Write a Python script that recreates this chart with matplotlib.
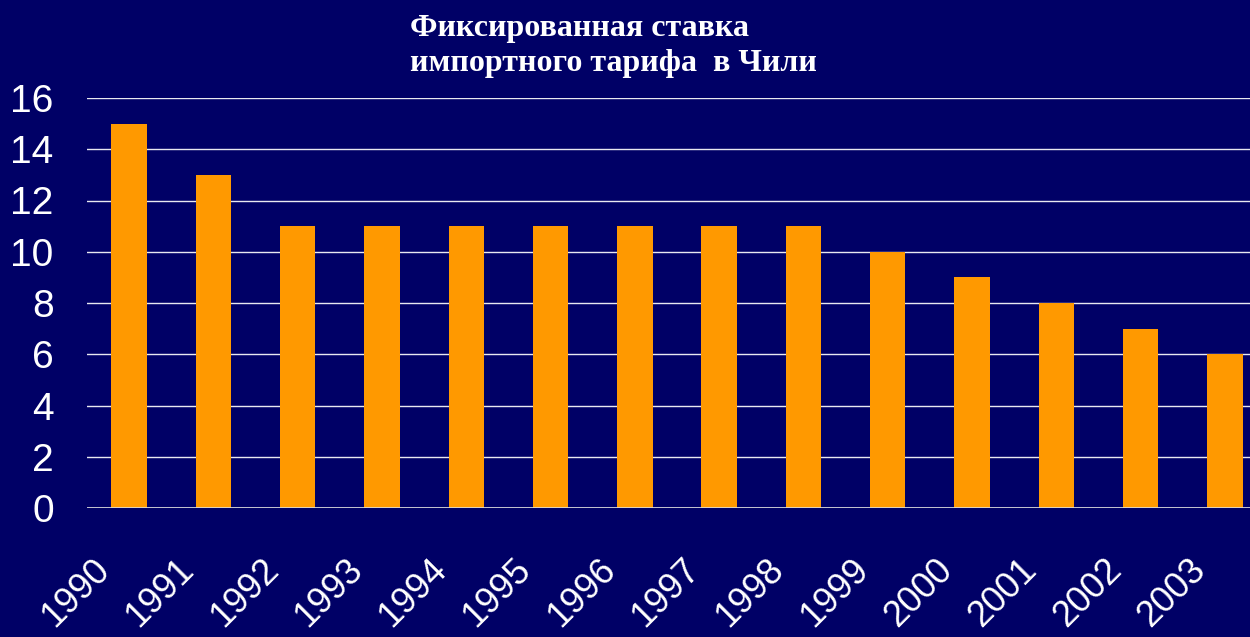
import numpy as np
import matplotlib
matplotlib.use('Agg')
from matplotlib import pyplot as plt
from matplotlib import transforms

years = ['1990', '1991', '1992', '1993', '1994', '1995', '1996',
         '1997', '1998', '1999', '2000', '2001', '2002', '2003']
rates = [15, 13, 11, 11, 11, 11, 11, 11, 11, 10, 9, 8, 7, 6]
title = 'Фиксированная ставка\nимпортного тарифа  в Чили'

bg = '#000066'
bar_color = '#FF9900'

fig = plt.figure(figsize=(12.5, 6.37), dpi=100, facecolor=bg)
# plot area runs a little past the right edge, like the original slide
ax = fig.add_axes([87/1250, 1-508/637, (1267-87)/1250, (508-98)/637])
ax.set_facecolor(bg)

x = np.arange(len(years))
ax.bar(x, rates, width=0.42, color=bar_color, zorder=3)

ax.set_xlim(-0.5, len(years)-0.5)
ax.set_ylim(0, 16)
ax.set_yticks(range(0, 17, 2))
ax.yaxis.grid(True, color='#e8e8f0', linewidth=1, zorder=0)
ax.axhline(0, color='#dddddd', linewidth=1.2, zorder=4)

for s in ax.spines.values():
    s.set_visible(False)
ax.tick_params(axis='both', length=0, colors='white')
ax.tick_params(axis='y', pad=24)
for t in ax.get_yticklabels():
    t.set_fontfamily('Liberation Sans')
    t.set_fontsize(28)
    t.set_color('white')

ax.set_xticks(x)
ax.set_xticklabels(years, rotation=45, ha='right', va='top',
                   rotation_mode='anchor', fontsize=26,
                   fontfamily='Liberation Sans', color='white')
ax.tick_params(axis='x', pad=24)
shift = transforms.ScaledTranslation(-0.37, -0.11, fig.dpi_scale_trans)
for t in ax.get_xticklabels():
    t.set_transform(t.get_transform() + shift)

fig.text(410/1250, 1-14/637, title, ha='left', va='top',
         fontsize=23, fontweight='bold', fontfamily='Liberation Serif',
         color='white', linespacing=1.27)

fig.savefig('out.png', dpi=100, facecolor=bg)
